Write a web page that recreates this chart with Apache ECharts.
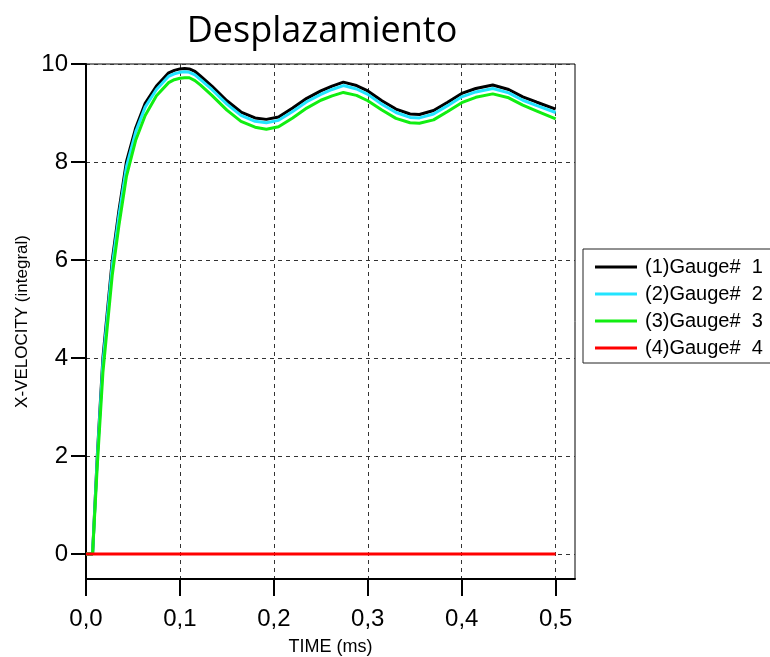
<!DOCTYPE html>
<html>
<head>
<meta charset="utf-8">
<script src="https://cdn.jsdelivr.net/npm/echarts@6/dist/echarts.min.js"></script>
<style>
  html, body { margin: 0; padding: 0; background: #fff; }
  #chart { width: 770px; height: 657px; }
</style>
</head>
<body>
<div id="chart"></div>
<script>
// tiempo (ms)
const time = [0, 0.007, 0.012, 0.018, 0.028, 0.035, 0.043, 0.053, 0.063, 0.075, 0.088, 0.094, 0.100,
  0.105, 0.110, 0.116, 0.122, 0.134, 0.150, 0.165, 0.180, 0.192, 0.205, 0.220, 0.235, 0.250, 0.262,
  0.274, 0.288, 0.300, 0.315, 0.330, 0.345, 0.355, 0.370, 0.385, 0.400, 0.415, 0.433, 0.450, 0.465,
  0.480, 0.500];

const gauge1 = [0, 0, 2.0, 4.0, 6.0, 7.0, 8.0, 8.7, 9.2, 9.55, 9.82, 9.87, 9.90,
  9.91, 9.90, 9.85, 9.75, 9.55, 9.25, 9.02, 8.90, 8.87, 8.92, 9.10, 9.30, 9.45, 9.55,
  9.63, 9.56, 9.45, 9.25, 9.08, 8.98, 8.97, 9.05, 9.22, 9.40, 9.50, 9.57, 9.48, 9.33,
  9.22, 9.08];

const gauge2 = [0, 0, 1.95, 3.9, 5.9, 6.9, 7.9, 8.62, 9.12, 9.48, 9.75, 9.80, 9.83,
  9.84, 9.83, 9.78, 9.68, 9.48, 9.18, 8.95, 8.83, 8.80, 8.85, 9.03, 9.23, 9.38, 9.48,
  9.56, 9.49, 9.38, 9.18, 9.01, 8.91, 8.90, 8.98, 9.15, 9.33, 9.43, 9.50, 9.41, 9.26,
  9.15, 9.01];

const gauge3 = [0, 0, 1.8, 3.7, 5.7, 6.7, 7.7, 8.45, 8.95, 9.35, 9.62, 9.68, 9.71,
  9.72, 9.72, 9.66, 9.57, 9.36, 9.06, 8.83, 8.71, 8.67, 8.72, 8.90, 9.10, 9.26, 9.35,
  9.42, 9.36, 9.25, 9.06, 8.89, 8.80, 8.79, 8.86, 9.03, 9.21, 9.32, 9.39, 9.31, 9.16,
  9.04, 8.88];

const gauge4Time = [0, 0.5];
const gauge4 = [0, 0];

const xTicks = [0, 0.1, 0.2, 0.3, 0.4, 0.5];
const yTicks = [0, 2, 4, 6, 8, 10];
const names = ['(1)Gauge#  1', '(2)Gauge#  2', '(3)Gauge#  3', '(4)Gauge#  4'];

function pairs(xs, ys) {
  return xs.map((x, i) => [x, ys[i]]);
}

const chart = echarts.init(document.getElementById('chart'));
chart.setOption({
  animation: false,
  title: {
    text: 'Desplazamiento',
    left: 317,
    top: 9,
    textAlign: 'center',
    textStyle: { fontFamily: 'Open Sans', fontWeight: 'normal', fontSize: 36, color: '#000' }
  },
  legend: {
    orient: 'vertical',
    left: 583,
    top: 249,
    padding: [8, 40, 5, 12],
    itemGap: 7,
    itemWidth: 42,
    itemHeight: 3,
    icon: 'rect',
    borderColor: '#222',
    borderWidth: 1,
    textStyle: { fontFamily: 'Liberation Sans', fontSize: 20, color: '#000', padding: [0, 0, 0, 3] },
    data: names
  },
  grid: {
    left: 86, right: 195, top: 64, bottom: 78,
    outerBoundsMode: 'none',
    show: true, borderColor: '#000', borderWidth: 1
  },
  xAxis: {
    type: 'value',
    min: 0,
    max: 0.5206,
    splitNumber: 5,
    name: 'TIME (ms)',
    nameLocation: 'middle',
    nameGap: 59,
    nameTextStyle: { fontFamily: 'Liberation Sans', fontSize: 18, color: '#000' },
    axisLine: { show: true, onZero: false, lineStyle: { color: '#000', width: 2 } },
    axisTick: { show: true, length: 17, customValues: xTicks, lineStyle: { color: '#000', width: 2 } },
    axisLabel: {
      customValues: xTicks,
      margin: 28,
      fontFamily: 'Liberation Sans', fontSize: 24, color: '#000',
      formatter: v => v.toFixed(1).replace('.', ',')
    },
    splitLine: { show: true, lineStyle: { color: '#333', type: [4, 4], width: 1 } }
  },
  yAxis: {
    type: 'value',
    min: -0.51,
    max: 10,
    splitNumber: 5,
    name: 'X-VELOCITY (integral)',
    nameLocation: 'middle',
    nameGap: 52,
    nameTextStyle: { fontFamily: 'Liberation Sans', fontSize: 17, color: '#000' },
    axisLine: { show: true, onZero: false, lineStyle: { color: '#000', width: 2 } },
    axisTick: { show: true, length: 15, customValues: yTicks, lineStyle: { color: '#000', width: 2 } },
    axisLabel: {
      customValues: yTicks,
      margin: 18,
      fontFamily: 'Liberation Sans', fontSize: 24, color: '#000'
    },
    splitLine: { show: true, lineStyle: { color: '#333', type: [4, 4], width: 1 } }
  },
  series: [
    { name: names[0], type: 'line', symbol: 'none', color: '#000000',
      lineStyle: { width: 3 }, data: pairs(time, gauge1) },
    { name: names[1], type: 'line', symbol: 'none', color: '#22e4ff',
      lineStyle: { width: 3 }, data: pairs(time, gauge2) },
    { name: names[2], type: 'line', symbol: 'none', color: '#11ee11',
      lineStyle: { width: 3 }, data: pairs(time, gauge3) },
    { name: names[3], type: 'line', symbol: 'none', color: '#ff0000',
      lineStyle: { width: 3 }, data: pairs(gauge4Time, gauge4) }
  ]
});
</script>
</body>
</html>
